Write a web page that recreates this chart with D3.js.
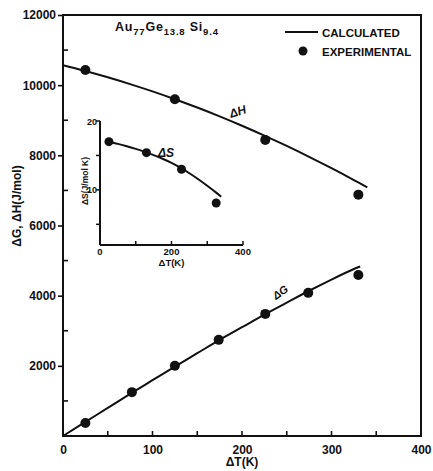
<!DOCTYPE html>
<html>
<head>
<meta charset="utf-8">
<script src="https://cdn.jsdelivr.net/npm/d3@7/dist/d3.min.js"></script>
<style>
  html, body { margin: 0; padding: 0; background: #fff; }
  svg { display: block; }
  text { font-family: "Liberation Sans", Arial, sans-serif; font-weight: bold; fill: #111; }
</style>
</head>
<body>
<svg id="chart" width="433" height="471"></svg>
<script>
// Calculated curves (ΔT in K)
const calcT_H = [0, 25, 50, 75, 100, 125, 150, 175, 200, 225, 250, 275, 300, 325, 340];
const calcH   = [10570, 10405, 10225, 10031, 9823, 9600, 9362, 9111, 8844, 8563, 8268, 7958, 7634, 7296, 7086];
const calcT_G = [0, 25, 50, 75, 100, 125, 150, 175, 200, 225, 250, 275, 300, 325, 332];
const calcG   = [0, 400, 800, 1200, 1590, 1980, 2360, 2740, 3100, 3460, 3800, 4140, 4460, 4760, 4830];
const calcT_S = [17, 25, 50, 75, 100, 125, 150, 175, 200, 225, 250, 275, 300, 325, 339];
const calcS   = [17.1, 16.98, 16.68, 16.33, 15.95, 15.52, 15.05, 14.52, 13.92, 13.22, 12.42, 11.55, 10.6, 9.6, 9.0];

// Experimental points
const expT_H = [25, 125, 226, 330];
const expH   = [10430, 9600, 8440, 6880];
const expT_G = [25, 77, 125, 174, 226, 274, 330];
const expG   = [370, 1250, 2000, 2740, 3480, 4080, 4590];
const expT_S = [25, 130, 228, 325];
const expS   = [17.0, 15.4, 13.0, 8.1];

// Axis ticks
const mainXTicks = [0, 100, 200, 300, 400];
const mainXMinor = [50, 150, 250, 350];
const mainYTicks = [2000, 4000, 6000, 8000, 10000, 12000];
const mainYMinor = [1000, 3000, 5000, 7000, 9000, 11000];
const insetXTicks = [0, 200, 400];
const insetXMinor = [100, 300];
const insetYTicks = [10, 20];
const insetYMinor = [5, 15];

const svg = d3.select("#chart");
const ink = "#111";

// ---- main panel ----
const x = d3.scaleLinear().domain([0, 400]).range([63, 421]);
const y = d3.scaleLinear().domain([0, 12000]).range([436, 15]);

// frame
svg.append("rect")
  .attr("x", x(0)).attr("y", y(12000))
  .attr("width", x(400) - x(0)).attr("height", y(0) - y(12000))
  .attr("fill", "none").attr("stroke", ink).attr("stroke-width", 2);

// x axis: ticks pointing inward
const xAxis = d3.axisBottom(x).tickValues(mainXTicks).tickSize(0).tickPadding(9);
svg.append("g").attr("transform", `translate(0,${y(0)})`).call(xAxis)
  .call(g => g.select(".domain").remove())
  .call(g => g.selectAll("text").attr("font-size", 12).attr("font-family", "Liberation Sans, Arial, sans-serif").attr("font-weight", "bold").attr("fill", ink));
svg.append("g").selectAll("line").data(mainXTicks.slice(1, 4).concat(mainXMinor)).join("line")
  .attr("x1", d => x(d)).attr("x2", d => x(d))
  .attr("y1", y(0)).attr("y2", y(0) - 5)
  .attr("stroke", ink).attr("stroke-width", 1.6);

// y axis: major ticks outward, minor ticks inward
const yAxis = d3.axisLeft(y).tickValues(mainYTicks).tickSize(5).tickPadding(2).tickFormat(d3.format("d"));
svg.append("g").attr("transform", `translate(${x(0)},0)`).call(yAxis)
  .call(g => g.select(".domain").remove())
  .call(g => g.selectAll("line").attr("stroke", ink).attr("stroke-width", 1.6))
  .call(g => g.selectAll("text").attr("font-size", 12).attr("font-family", "Liberation Sans, Arial, sans-serif").attr("font-weight", "bold").attr("fill", ink));
svg.append("g").selectAll("line").data(mainYMinor).join("line")
  .attr("x1", x(0)).attr("x2", x(0) + 5)
  .attr("y1", d => y(d)).attr("y2", d => y(d))
  .attr("stroke", ink).attr("stroke-width", 1.6);

// axis titles
svg.append("text").attr("x", 242).attr("y", 466).attr("text-anchor", "middle")
  .attr("font-size", 12).text("ΔT(K)");
svg.append("text").attr("transform", "translate(21,206) rotate(-90)").attr("text-anchor", "middle")
  .attr("font-size", 12).text("ΔG, ΔH(J/mol)");

const line = d3.line().curve(d3.curveCatmullRom);

// ΔH and ΔG curves
svg.append("path")
  .attr("d", line(calcT_H.map((t, i) => [x(t), y(calcH[i])])))
  .attr("fill", "none").attr("stroke", ink).attr("stroke-width", 2);
svg.append("path")
  .attr("d", line(calcT_G.map((t, i) => [x(t), y(calcG[i])])))
  .attr("fill", "none").attr("stroke", ink).attr("stroke-width", 2);

svg.append("g").selectAll("circle").data(expT_H.map((t, i) => [t, expH[i]])).join("circle")
  .attr("cx", d => x(d[0])).attr("cy", d => y(d[1])).attr("r", 5).attr("fill", ink);
svg.append("g").selectAll("circle").data(expT_G.map((t, i) => [t, expG[i]])).join("circle")
  .attr("cx", d => x(d[0])).attr("cy", d => y(d[1])).attr("r", 5).attr("fill", ink);

// curve labels
svg.append("text").attr("transform", "translate(231,118) rotate(-18)")
  .attr("font-size", 12).attr("font-style", "italic").text("ΔH");
svg.append("text").attr("transform", "translate(276,300) rotate(-35)")
  .attr("font-size", 11).attr("font-style", "italic").text("ΔG");

// composition
const comp = svg.append("text").attr("x", 115).attr("y", 31)
  .attr("font-size", 12.5).attr("letter-spacing", 0.8);
comp.append("tspan").text("Au");
comp.append("tspan").attr("dy", 4).attr("font-size", 9.5).text("77");
comp.append("tspan").attr("dy", -4).text("Ge");
comp.append("tspan").attr("dy", 4).attr("font-size", 9.5).text("13.8");
comp.append("tspan").attr("dy", -4).text(" Si");
comp.append("tspan").attr("dy", 4).attr("font-size", 9.5).text("9.4");

// legend
svg.append("line").attr("x1", 285).attr("x2", 318).attr("y1", 32).attr("y2", 32)
  .attr("stroke", ink).attr("stroke-width", 2);
svg.append("text").attr("x", 322).attr("y", 37).attr("font-size", 11.5).text("CALCULATED");
svg.append("circle").attr("cx", 303).attr("cy", 51).attr("r", 4.5).attr("fill", ink);
svg.append("text").attr("x", 322).attr("y", 56).attr("font-size", 11.5).text("EXPERIMENTAL");

// ---- inset ΔS panel ----
const xi = d3.scaleLinear().domain([0, 400]).range([100, 243]);
const yi = d3.scaleLinear().domain([2, 20]).range([245, 121]);

svg.append("line").attr("x1", xi(0)).attr("x2", xi(0)).attr("y1", yi(20)).attr("y2", yi(2))
  .attr("stroke", ink).attr("stroke-width", 2);
svg.append("line").attr("x1", xi(0)).attr("x2", xi(400)).attr("y1", yi(2)).attr("y2", yi(2))
  .attr("stroke", ink).attr("stroke-width", 2);

svg.append("g").selectAll("line").data(insetYTicks.concat(insetYMinor)).join("line")
  .attr("x1", xi(0) - 4).attr("x2", xi(0))
  .attr("y1", d => yi(d)).attr("y2", d => yi(d))
  .attr("stroke", ink).attr("stroke-width", 1.5);
svg.append("g").selectAll("line").data(insetXMinor.concat([200, 400])).join("line")
  .attr("x1", d => xi(d)).attr("x2", d => xi(d))
  .attr("y1", yi(2)).attr("y2", yi(2) - 4)
  .attr("stroke", ink).attr("stroke-width", 1.5);

svg.append("g").selectAll("text").data(insetYTicks).join("text")
  .attr("x", xi(0) - 3).attr("y", d => yi(d) + 3.5).attr("text-anchor", "end")
  .attr("font-size", 9).text(d => d);
svg.append("g").selectAll("text").data(insetXTicks).join("text")
  .attr("x", d => xi(d)).attr("y", yi(2) + 10).attr("text-anchor", "middle")
  .attr("font-size", 9.5).text(d => d);
svg.append("text").attr("x", xi(200)).attr("y", 266).attr("text-anchor", "middle")
  .attr("font-size", 9.5).text("ΔT(K)");
svg.append("text").attr("transform", "translate(88,181) rotate(-90)").attr("text-anchor", "middle")
  .attr("font-size", 8.5).text("ΔS(J/mol K)");

svg.append("path")
  .attr("d", line(calcT_S.map((t, i) => [xi(t), yi(calcS[i])])))
  .attr("fill", "none").attr("stroke", ink).attr("stroke-width", 2);
svg.append("g").selectAll("circle").data(expT_S.map((t, i) => [t, expS[i]])).join("circle")
  .attr("cx", d => xi(d[0])).attr("cy", d => yi(d[1])).attr("r", 4.5).attr("fill", ink);
svg.append("text").attr("x", 158).attr("y", 157).attr("font-size", 12)
  .attr("font-style", "italic").text("ΔS");
</script>
</body>
</html>
